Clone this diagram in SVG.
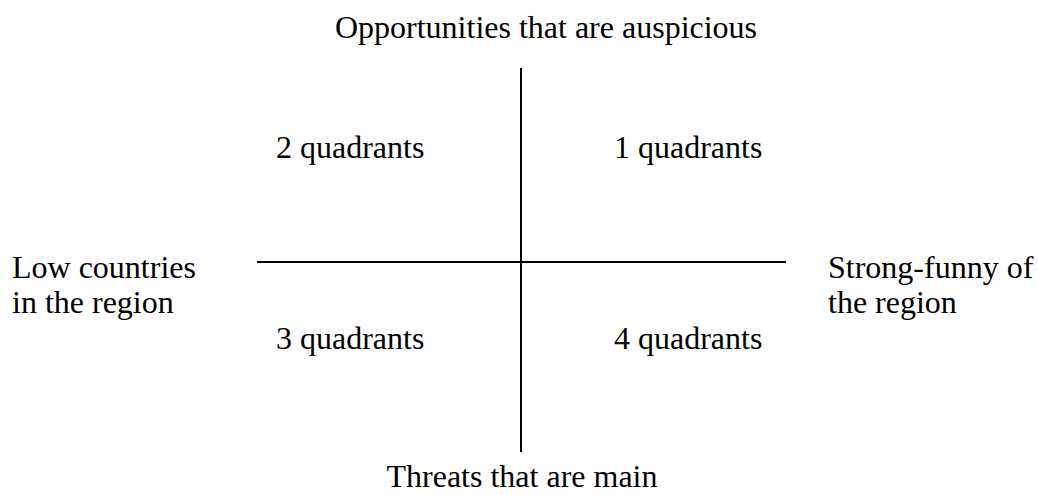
<svg xmlns="http://www.w3.org/2000/svg" width="1038" height="495" viewBox="0 0 1038 495">
<style>
text{font-family:"Liberation Serif","Times New Roman",serif;font-size:32px;fill:#000}
.ax{stroke:#000;stroke-width:2;fill:none}
</style>
<rect width="1038" height="495" fill="#fff"/>
<g id="connectors">
<line class="ax" x1="521" y1="68" x2="521" y2="452"/>
<line class="ax" x1="257" y1="262" x2="786" y2="262"/>
</g>
<g id="top"><text x="546" y="38" text-anchor="middle">Opportunities that are auspicious</text></g>
<g id="bottom"><text x="522" y="487" text-anchor="middle">Threats that are main</text></g>
<g id="left"><text x="12" y="278">Low countries</text><text x="12" y="313">in the region</text></g>
<g id="right"><text x="828" y="278">Strong-funny of</text><text x="828" y="313">the region</text></g>
<g id="q2"><text x="276" y="158">2 quadrants</text></g>
<g id="q1"><text x="614" y="158">1 quadrants</text></g>
<g id="q3"><text x="276" y="349">3 quadrants</text></g>
<g id="q4"><text x="614" y="349">4 quadrants</text></g>
</svg>
